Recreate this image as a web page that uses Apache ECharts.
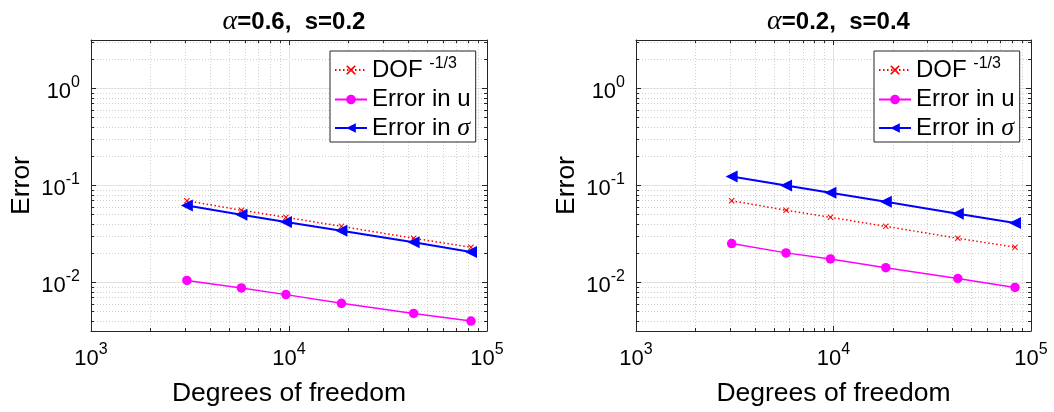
<!DOCTYPE html>
<html>
<head>
<meta charset="utf-8">
<script src="https://cdn.jsdelivr.net/npm/echarts@6/dist/echarts.min.js"></script>
<style>
  html, body { margin: 0; padding: 0; background: #fff; }
  #chart { width: 1054px; height: 412px; }
</style>
</head>
<body>
<div id="chart"></div>
<script>
// ── Data ──────────────────────────────────────────────────────────────────
const dof = [3050, 5750, 9650, 18400, 42600, 83000];

// DOF^(-1/3) reference slope, same in both panels
const rateRef = [0.0697, 0.0556, 0.0470, 0.0379, 0.0286, 0.0231];

// panel 1: alpha=0.6, s=0.2
const errULeft = [0.0105, 0.0088, 0.0075, 0.0061, 0.0048, 0.0040];
const errSigmaLeft = [0.0623, 0.0500, 0.0421, 0.0342, 0.0260, 0.0206];

// panel 2: alpha=0.2, s=0.4
const errURight = [0.0252, 0.0202, 0.0175, 0.0142, 0.0110, 0.0089];
const errSigmaRight = [0.1237, 0.1000, 0.0841, 0.0680, 0.0512, 0.0411];

const panelAlpha = ['0.6', '0.2'];
const panelS = ['0.2', '0.4'];

const seriesNames = ['DOF', 'Error in u', 'Error in σ'];

// tick values
const xMajor = [1e3, 1e4, 1e5];
const xMinor = [2e3, 3e3, 4e3, 5e3, 6e3, 7e3, 8e3, 9e3, 2e4, 3e4, 4e4, 5e4, 6e4, 7e4, 8e4, 9e4];
const yMajor = [0.01, 0.1, 1];
const yMinor = [0.004, 0.005, 0.006, 0.007, 0.008, 0.009,
                0.02, 0.03, 0.04, 0.05, 0.06, 0.07, 0.08, 0.09,
                0.2, 0.3, 0.4, 0.5, 0.6, 0.7, 0.8, 0.9, 2, 3];

// ── Style bits ────────────────────────────────────────────────────────────
const FONT = "'Liberation Sans', Helvetica, Arial, sans-serif";
const SERIF = "'Liberation Serif', 'DejaVu Serif', serif";
const AX = '#262626';
const X_MIN = 1e3, X_MAX = 1e5;
const Y_MIN = 0.0031623, Y_MAX = 3.1623;

const GRIDS = [
  { left: 91, top: 40, width: 396, height: 292 },
  { left: 636, top: 40, width: 395, height: 292 },
];

// "10" + raised exponent; the whole label is centred, so the base sits a bit low
const powRich = {
  b: { fontSize: 22, fontFamily: FONT, color: '#000', padding: [6, 0, 0, 0] },
  s: { fontSize: 16, fontFamily: FONT, color: '#000', padding: [0, 0, 12, 0] },
};
function pow10Label(v) {
  const e = Math.round(Math.log10(v));
  return '{b|10}{s|' + e + '}';
}

const nameStyle = { fontSize: 26.5, fontFamily: FONT, color: '#000' };

// four axes per side: major/minor x bottom/top, used only for ticks + grid
function buildXAxes(gi) {
  const base = { type: 'log', logBase: 10, gridIndex: gi, min: X_MIN, max: X_MAX };
  return [
    Object.assign({}, base, {
      position: 'bottom',
      axisLine: { show: true, lineStyle: { color: AX, width: 1 } },
      axisTick: { show: true, inside: true, length: 5, customValues: xMajor, lineStyle: { color: AX } },
      axisLabel: { show: true, customValues: xMajor, formatter: pow10Label, rich: powRich, margin: 11 },
      splitLine: { show: true, lineStyle: { color: '#e2e2e2', width: 1 } },
      name: 'Degrees of freedom', nameLocation: 'middle', nameGap: 49, nameTextStyle: nameStyle,
    }),
    Object.assign({}, base, {
      position: 'bottom',
      axisLine: { show: false },
      axisTick: { show: true, inside: true, length: 3, customValues: xMinor, lineStyle: { color: AX } },
      axisLabel: { show: false },
      splitLine: { show: true, lineStyle: { color: '#cfcfcf', width: 1, type: [1, 2] } },
    }),
    Object.assign({}, base, {
      position: 'top',
      axisLine: { show: true, lineStyle: { color: AX, width: 1 } },
      axisTick: { show: true, inside: true, length: 5, customValues: xMajor, lineStyle: { color: AX } },
      axisLabel: { show: false }, splitLine: { show: false },
    }),
    Object.assign({}, base, {
      position: 'top',
      axisLine: { show: false },
      axisTick: { show: true, inside: true, length: 3, customValues: xMinor, lineStyle: { color: AX } },
      axisLabel: { show: false }, splitLine: { show: false },
    }),
  ];
}

function buildYAxes(gi) {
  const base = { type: 'log', logBase: 10, gridIndex: gi, min: Y_MIN, max: Y_MAX };
  return [
    Object.assign({}, base, {
      position: 'left',
      axisLine: { show: true, lineStyle: { color: AX, width: 1 } },
      axisTick: { show: true, inside: true, length: 5, customValues: yMajor, lineStyle: { color: AX } },
      axisLabel: { show: true, customValues: yMajor, formatter: pow10Label, rich: powRich, margin: 11 },
      splitLine: { show: true, lineStyle: { color: '#e2e2e2', width: 1 } },
      name: 'Error', nameLocation: 'middle', nameGap: 56, nameTextStyle: nameStyle,
    }),
    Object.assign({}, base, {
      position: 'left',
      axisLine: { show: false },
      axisTick: { show: true, inside: true, length: 3, customValues: yMinor, lineStyle: { color: AX } },
      axisLabel: { show: false },
      splitLine: { show: true, lineStyle: { color: '#cfcfcf', width: 1, type: [1, 2] } },
    }),
    Object.assign({}, base, {
      position: 'right',
      axisLine: { show: true, lineStyle: { color: AX, width: 1 } },
      axisTick: { show: true, inside: true, length: 5, customValues: yMajor, lineStyle: { color: AX } },
      axisLabel: { show: false }, splitLine: { show: false },
    }),
    Object.assign({}, base, {
      position: 'right',
      axisLine: { show: false },
      axisTick: { show: true, inside: true, length: 3, customValues: yMinor, lineStyle: { color: AX } },
      axisLabel: { show: false }, splitLine: { show: false },
    }),
  ];
}

// filled "x" marker, like MATLAB's 'x'
const CROSS = 'path://M0,1.2L1.2,0L5,3.8L8.8,0L10,1.2L6.2,5L10,8.8L8.8,10L5,6.2L1.2,10L0,8.8L3.8,5Z';

function pairs(ys) {
  return dof.map((x, i) => [x, ys[i]]);
}

function buildSeries(gi, errU, errSigma) {
  const axes = { xAxisIndex: gi * 4, yAxisIndex: gi * 4 };
  return [
    Object.assign({
      name: seriesNames[0], type: 'line', data: pairs(rateRef),
      symbol: CROSS, symbolSize: 6, z: 3,
      itemStyle: { color: '#ff0000' },
      lineStyle: { color: '#ff0000', width: 1.5, type: [1.5, 2.5] },
    }, axes),
    Object.assign({
      name: seriesNames[1], type: 'line', data: pairs(errU),
      symbol: 'circle', symbolSize: 9.5, z: 4,
      itemStyle: { color: '#ff00ff' },
      lineStyle: { color: '#ff00ff', width: 1.5 },
    }, axes),
    Object.assign({
      name: seriesNames[2], type: 'line', data: pairs(errSigma),
      symbol: 'triangle', symbolRotate: 90, symbolSize: 12, z: 5,
      itemStyle: { color: '#0000ff' },
      lineStyle: { color: '#0000ff', width: 2 },
    }, axes),
  ];
}

function legendText(name) {
  if (name === seriesNames[0]) return '{t|DOF }{s|-1/3}';
  if (name === seriesNames[2]) return '{t|Error in }{g|σ}';
  return '{t|' + name + '}';
}

function buildLegend(left) {
  return {
    left: left, top: 51, orient: 'vertical',
    data: seriesNames,
    backgroundColor: '#fff',
    borderColor: AX, borderWidth: 1,
    padding: [5, 5, 1, 4],
    itemGap: 3.5, itemWidth: 32, itemHeight: 12,
    selectedMode: false,
    formatter: legendText,
    textStyle: {
      color: '#000', fontFamily: FONT, fontSize: 24,
      rich: {
        t: { fontSize: 24, fontFamily: FONT, color: '#000' },
        s: { fontSize: 16, fontFamily: FONT, color: '#000', lineHeight: 12, padding: [0, 0, 12, 0] },
        g: { fontSize: 26, fontFamily: SERIF, fontStyle: 'italic', color: '#000', lineHeight: 24 },
      },
    },
  };
}

function buildTitle(gi) {
  const g = GRIDS[gi];
  return {
    text: '{a|α}{b|=' + panelAlpha[gi] + ',  s=' + panelS[gi] + '}',
    left: g.left + g.width / 2, top: 3, textAlign: 'center',
    textStyle: {
      rich: {
        a: { fontSize: 28, fontFamily: SERIF, fontStyle: 'italic', fontWeight: 'normal', color: '#000' },
        b: { fontSize: 24, fontFamily: FONT, fontWeight: 'bold', color: '#000' },
      },
    },
  };
}

const chart = echarts.init(document.getElementById('chart'));
chart.setOption({
  animation: false,
  backgroundColor: '#fff',
  title: [buildTitle(0), buildTitle(1)],
  grid: GRIDS.map(g => Object.assign({ containLabel: false }, g)),
  legend: [buildLegend(330), buildLegend(874)],
  xAxis: buildXAxes(0).concat(buildXAxes(1)),
  yAxis: buildYAxes(0).concat(buildYAxes(1)),
  series: buildSeries(0, errULeft, errSigmaLeft).concat(buildSeries(1, errURight, errSigmaRight)),
});
</script>
</body>
</html>
